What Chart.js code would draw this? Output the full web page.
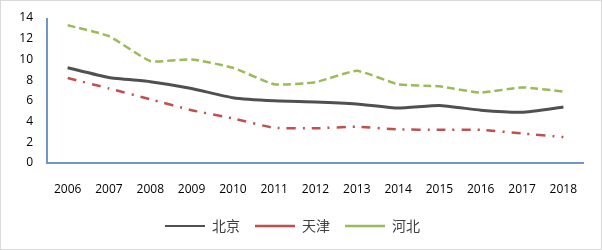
<!DOCTYPE html>
<html>
<head>
<meta charset="utf-8">
<script src="https://cdn.jsdelivr.net/npm/chart.js@4"></script>
<style>
  html, body { margin: 0; padding: 0; background: #fff; }
  #wrap { position: relative; width: 600px; height: 248px; border: 1px solid #d9d9d9; }
</style>
</head>
<body>
<div id="wrap"><canvas id="myChart"></canvas></div>
<script>
const years = ['2006', '2007', '2008', '2009', '2010', '2011', '2012', '2013', '2014', '2015', '2016', '2017', '2018'];
const beijing = [9.2, 8.25, 7.85, 7.2, 6.3, 6.0, 5.9, 5.7, 5.3, 5.55, 5.1, 4.9, 5.4];
const tianjin = [8.2, 7.2, 6.15, 5.1, 4.3, 3.4, 3.35, 3.5, 3.25, 3.2, 3.2, 2.85, 2.5];
const hebei = [13.3, 12.25, 9.85, 10.0, 9.2, 7.6, 7.8, 8.9, 7.6, 7.4, 6.8, 7.3, 6.9];
const yTicks = [0, 2, 4, 6, 8, 10, 12, 14];

const axisColor = '#7096c8';

// fixed legend height so the plot area lines up with the original
const legendHeight = {
    id: 'legendHeight',
    beforeInit(chart) {
        const origFit = chart.legend.fit;
        chart.legend.fit = function () {
            origFit.bind(chart.legend)();
            this.height = 45;
        };
    }
};

// blue axis lines on the left and bottom of the plot
const axisLines = {
    id: 'axisLines',
    beforeDatasetsDraw(chart) {
        const { ctx, chartArea: a } = chart;
        ctx.save();
        ctx.strokeStyle = axisColor;
        ctx.lineWidth = 2;
        ctx.beginPath();
        ctx.moveTo(a.left, a.top);
        ctx.lineTo(a.left, a.bottom);
        ctx.lineTo(a.right, a.bottom);
        ctx.stroke();
        ctx.restore();
    }
};

const ctx = document.getElementById('myChart').getContext('2d');
const myChart = new Chart(ctx, {
    type: 'line',
    data: {
        labels: years,
        datasets: [
            { label: '北京', data: beijing, borderColor: '#505050', backgroundColor: '#505050', borderWidth: 3, pointRadius: 0, tension: 0.15 },
            { label: '北京-inner', data: beijing, borderColor: '#a0a0a0', borderWidth: 1, pointRadius: 0, tension: 0.15 },
            { label: '天津', data: tianjin, borderColor: '#c0504d', backgroundColor: '#c0504d', borderWidth: 2.5, borderDash: [9, 7, 2, 7], pointRadius: 0, tension: 0.15 },
            { label: '河北', data: hebei, borderColor: '#9bbb59', backgroundColor: '#9bbb59', borderWidth: 2.5, borderDash: [8, 4], pointRadius: 0, tension: 0.15 }
        ]
    },
    plugins: [legendHeight, axisLines],
    options: {
        responsive: true,
        maintainAspectRatio: false,
        animation: false,
        layout: { padding: { top: 17, right: 17, left: 0, bottom: 0 } },
        scales: {
            x: {
                offset: true,
                afterFit: (scale) => { scale.height = 41; },
                grid: { display: false, drawTicks: false },
                border: { display: false },
                ticks: { color: '#000', padding: 19, font: { family: 'Open Sans', size: 12 } }
            },
            y: {
                min: 0, max: 14,
                afterBuildTicks: (scale) => { scale.ticks = yTicks.map(v => ({ value: v })); },
                afterFit: (scale) => { scale.width = 46; scale.paddingTop = 0; scale.paddingBottom = 0; },
                grid: { display: false, drawTicks: false },
                border: { display: false },
                ticks: { color: '#000', padding: 14, font: { family: 'Open Sans', size: 12 } }
            }
        },
        plugins: {
            tooltip: { enabled: false },
            legend: {
                position: 'bottom',
                labels: {
                    filter: (item) => item.text !== '北京-inner',
                    generateLabels: (chart) => Chart.defaults.plugins.legend.labels.generateLabels(chart)
                        .map(item => Object.assign(item, { lineWidth: item.text === '北京' ? 2 : 2.5 })),
                    usePointStyle: true, pointStyle: 'line', pointStyleWidth: 40, boxHeight: 8, padding: 15,
                    color: '#404040', font: { family: 'Noto Sans CJK SC', size: 14 }
                }
            }
        }
    }
});
</script>
</body>
</html>
